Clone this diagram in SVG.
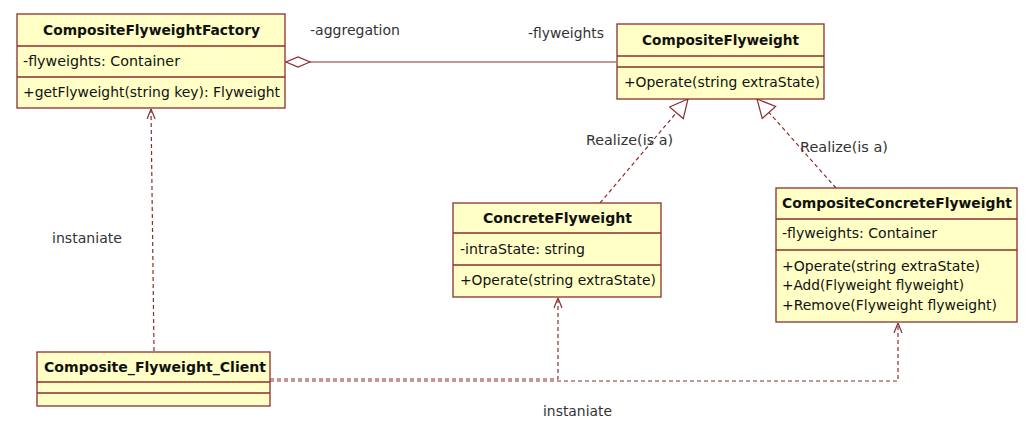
<svg xmlns="http://www.w3.org/2000/svg" width="1034" height="430" viewBox="0 0 1034 430">
<style>
.box{fill:#ffffc6;stroke:#8b2e2e;stroke-width:1.3}
.sep{stroke:#8b2e2e;stroke-width:1.3}
.t{font-family:"DejaVu Sans",Verdana,sans-serif;font-size:14px;fill:#111}
.h{font-family:"DejaVu Sans",Verdana,sans-serif;font-size:13.5px;font-weight:bold;fill:#111}
.lbl{font-family:"DejaVu Sans",Verdana,sans-serif;font-size:14px;fill:#333}
.dash{fill:none;stroke:#8b2e2e;stroke-width:1.2;stroke-dasharray:4 3}
.solid{fill:none;stroke:#8b2e2e;stroke-width:1.2}
</style>
<defs>
<marker id="open" viewBox="0 0 10 10" refX="10" refY="5" markerWidth="10" markerHeight="10" markerUnits="userSpaceOnUse" orient="auto">
<path d="M0,1 L10,5 L0,9" fill="none" stroke="#8b2e2e" stroke-width="1.2"/>
</marker>
<marker id="tri" viewBox="0 0 20 20" refX="19" refY="10" markerWidth="20" markerHeight="20" markerUnits="userSpaceOnUse" orient="auto">
<path d="M1,1 L19,10 L1,19 Z" fill="#ffffff" stroke="#8b2e2e" stroke-width="1.2"/>
</marker>
<marker id="dia" viewBox="0 0 26 12" refX="24.5" refY="6" markerWidth="26" markerHeight="12" markerUnits="userSpaceOnUse" orient="auto">
<path d="M0.5,6 L12.5,1 L24.5,6 L12.5,11 Z" fill="#ffffff" stroke="#8b2e2e" stroke-width="1.2"/>
</marker>
</defs>
<rect width="1034" height="430" fill="#ffffff"/>
<g id="connectors">
<path class="solid" d="M616,62 L286,62" marker-end="url(#dia)"/>
<path class="dash" d="M154,351 L151,109" marker-end="url(#open)"/>
<path class="dash" d="M600,203 L688,99" marker-end="url(#tri)"/>
<path class="dash" d="M836,188 L757,99" marker-end="url(#tri)"/>
<path class="dash" d="M270,379 H558 V298" marker-end="url(#open)"/>
<path class="dash" d="M270,381 H898 V323" marker-end="url(#open)"/>
<text class="lbl" x="310" y="35" textLength="90" lengthAdjust="spacingAndGlyphs">-aggregation</text>
<text class="lbl" x="528" y="38" textLength="76" lengthAdjust="spacingAndGlyphs">-flyweights</text>
<text class="lbl" x="586" y="145" textLength="87" lengthAdjust="spacingAndGlyphs">Realize(is a)</text>
<text class="lbl" x="800" y="152" textLength="88" lengthAdjust="spacingAndGlyphs">Realize(is a)</text>
<text class="lbl" x="52" y="243" textLength="70" lengthAdjust="spacingAndGlyphs">instaniate</text>
<text class="lbl" x="543" y="416" textLength="69" lengthAdjust="spacingAndGlyphs">instaniate</text>
</g>
<g id="CompositeFlyweightFactory">
<rect class="box" x="17" y="14" width="268" height="94"/>
<line class="sep" x1="17" y1="46" x2="285" y2="46"/>
<line class="sep" x1="17" y1="77" x2="285" y2="77"/>
<text class="h" x="43" y="35" textLength="217" lengthAdjust="spacingAndGlyphs">CompositeFlyweightFactory</text>
<text class="t" x="23" y="66" textLength="157" lengthAdjust="spacingAndGlyphs">-flyweights: Container</text>
<text class="t" x="23" y="97" textLength="257" lengthAdjust="spacingAndGlyphs">+getFlyweight(string key): Flyweight</text>
</g>
<g id="CompositeFlyweight">
<rect class="box" x="617" y="24" width="207" height="75"/>
<line class="sep" x1="617" y1="56" x2="824" y2="56"/>
<line class="sep" x1="617" y1="67" x2="824" y2="67"/>
<text class="h" x="642" y="45" textLength="157" lengthAdjust="spacingAndGlyphs">CompositeFlyweight</text>
<text class="t" x="624" y="87" textLength="196" lengthAdjust="spacingAndGlyphs">+Operate(string extraState)</text>
</g>
<g id="ConcreteFlyweight">
<rect class="box" x="453" y="203" width="208" height="94"/>
<line class="sep" x1="453" y1="233" x2="661" y2="233"/>
<line class="sep" x1="453" y1="265" x2="661" y2="265"/>
<text class="h" x="483" y="223" textLength="149" lengthAdjust="spacingAndGlyphs">ConcreteFlyweight</text>
<text class="t" x="460" y="254" textLength="125" lengthAdjust="spacingAndGlyphs">-intraState: string</text>
<text class="t" x="460" y="285" textLength="196" lengthAdjust="spacingAndGlyphs">+Operate(string extraState)</text>
</g>
<g id="CompositeConcreteFlyweight">
<rect class="box" x="776" y="188" width="241" height="134"/>
<line class="sep" x1="776" y1="219" x2="1017" y2="219"/>
<line class="sep" x1="776" y1="250" x2="1017" y2="250"/>
<text class="h" x="782" y="208" textLength="230" lengthAdjust="spacingAndGlyphs">CompositeConcreteFlyweight</text>
<text class="t" x="782" y="238" textLength="155" lengthAdjust="spacingAndGlyphs">-flyweights: Container</text>
<text class="t" x="782" y="271" textLength="198" lengthAdjust="spacingAndGlyphs">+Operate(string extraState)</text>
<text class="t" x="782" y="290" textLength="182" lengthAdjust="spacingAndGlyphs">+Add(Flyweight flyweight)</text>
<text class="t" x="782" y="310" textLength="215" lengthAdjust="spacingAndGlyphs">+Remove(Flyweight flyweight)</text>
</g>
<g id="Composite_Flyweight_Client">
<rect class="box" x="37" y="352" width="233" height="54"/>
<line class="sep" x1="37" y1="382" x2="270" y2="382"/>
<line class="sep" x1="37" y1="393" x2="270" y2="393"/>
<text class="h" x="44" y="372" textLength="222" lengthAdjust="spacingAndGlyphs">Composite_Flyweight_Client</text>
</g>
</svg>
